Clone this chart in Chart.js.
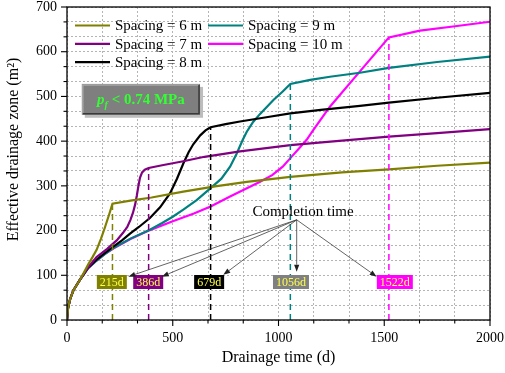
<!DOCTYPE html>
<html>
<head>
<meta charset="utf-8">
<script src="https://cdn.jsdelivr.net/npm/chart.js"></script>
<style>
  html, body { margin: 0; padding: 0; background: #fff; }
  #wrap { width: 505px; height: 373px; }
</style>
</head>
<body>
<div id="wrap"><canvas id="myChart"></canvas></div>
<script>
const FONT = '"Liberation Serif", "Times New Roman", serif';

// values: drainage time (d) -> effective drainage zone (m2)
const seriesNames = ['Spacing = 6 m', 'Spacing = 7 m', 'Spacing = 8 m', 'Spacing = 9 m', 'Spacing = 10 m'];
const seriesColors = ['#808000', '#800080', '#000000', '#008080', '#ff00ff'];

const days6 = [0, 5, 15, 30, 60, 80, 100, 120, 140, 160, 180, 200, 215, 300, 400, 550, 700, 850, 1056, 1300, 1522, 1750, 2000];
const area6 = [0, 27, 47, 66, 89, 106, 124, 140, 157, 181, 208, 237, 260, 267, 274, 287, 299, 309, 320, 330, 337, 345, 352];

const days7 = [0, 5, 15, 30, 60, 100, 140, 190, 235, 265, 285, 300, 312, 322, 330, 337, 345, 355, 368, 386, 450, 550, 650, 818, 1056, 1300, 1522, 1750, 2000];
const area7 = [0, 27, 47, 66, 89, 118, 141, 159, 178, 195, 208, 224, 240, 258, 278, 298, 318, 330, 336, 340, 346, 355, 365, 377, 391, 401, 410, 418, 427];

const days8 = [0, 5, 15, 30, 60, 100, 140, 180, 219, 260, 298, 340, 392, 440, 487, 520, 550, 575, 597, 630, 655, 679, 750, 818, 950, 1056, 1200, 1385, 1522, 1750, 2000];
const area8 = [0, 27, 47, 66, 89, 117, 135, 150, 164, 178, 193, 208, 228, 252, 283, 316, 350, 375, 393, 413, 424, 431, 438, 444, 454, 462, 470, 479, 486, 497, 508];

const days9 = [0, 5, 15, 30, 60, 100, 140, 180, 219, 300, 392, 450, 500, 550, 613, 679, 730, 771, 802, 830, 850, 880, 913, 976, 1020, 1056, 1150, 1243, 1385, 1522, 1750, 2000];
const area9 = [0, 27, 47, 66, 89, 116, 133, 148, 161, 182, 202, 217, 231, 247, 268, 295, 316, 343, 372, 402, 421, 443, 461, 492, 511, 528, 537, 544, 553, 564, 577, 589];

const days10 = [0, 5, 15, 30, 60, 100, 140, 180, 219, 300, 392, 500, 600, 679, 771, 913, 970, 1020, 1056, 1100, 1133, 1165, 1196, 1243, 1385, 1522, 1669, 1835, 2000];
const area10 = [0, 27, 47, 66, 89, 116, 133, 148, 160, 181, 201, 221, 238, 254, 276, 309, 324, 343, 362, 385, 403, 425, 446, 477, 556, 632, 647, 657, 667];

// completion time markers
const completionDays = [215, 386, 679, 1056, 1522];
const completionArea = [260, 340, 431, 528, 632];
const completionLabels = ['215d', '386d', '679d', '1056d', '1522d'];
const completionBoxColors = ['#808000', '#800080', '#000000', '#808080', '#ff00ff'];
const completionLabelDays = [212, 384, 672, 1059, 1550];

// axis ticks
const xTickLabels = [0, 500, 1000, 1500, 2000];
const yTickLabels = [0, 100, 200, 300, 400, 500, 600, 700];
const minorPerMajor = 3;

const allDays = [days6, days7, days8, days9, days10];
const allArea = [area6, area7, area8, area9, area10];

function toPoints(xs, ys) {
  return xs.map((x, i) => ({ x: x, y: ys[i] }));
}

const datasets = [];
// dashed vertical completion lines
completionDays.forEach((d, i) => {
  datasets.push({
    label: 'marker' + i,
    data: [{ x: d, y: 0 }, { x: d, y: completionArea[i] }],
    borderColor: seriesColors[i],
    borderWidth: 1.5,
    borderDash: [6, 4],
    pointRadius: 0,
    fill: false
  });
});
seriesNames.forEach((name, i) => {
  datasets.push({
    label: name,
    data: toPoints(allDays[i], allArea[i]),
    borderColor: seriesColors[i],
    backgroundColor: seriesColors[i],
    borderWidth: 2.2,
    pointRadius: 0,
    tension: 0,
    fill: false
  });
});

function isMajor(v, list) {
  return list.some(t => Math.abs(t - v) < 1e-6);
}

function buildTicks(scale, list) {
  const step = (list[1] - list[0]) / minorPerMajor;
  const n = (list[list.length - 1] - list[0]) / step;
  const ticks = [];
  for (let i = 0; i <= Math.round(n); i++) ticks.push({ value: list[0] + i * step });
  scale.ticks = ticks;
}

function drawArrow(ctx, x1, y1, x2, y2) {
  const a = Math.atan2(y2 - y1, x2 - x1);
  const len = 7, w = 2.6;
  const bx = x2 - len * Math.cos(a), by = y2 - len * Math.sin(a);
  ctx.beginPath();
  ctx.moveTo(x1, y1);
  ctx.lineTo(bx, by);
  ctx.stroke();
  ctx.beginPath();
  ctx.moveTo(x2, y2);
  ctx.lineTo(bx + w * Math.sin(a), by - w * Math.cos(a));
  ctx.lineTo(bx - w * Math.sin(a), by + w * Math.cos(a));
  ctx.closePath();
  ctx.fill();
}

const overlay = {
  id: 'overlay',
  afterDatasetsDraw(chart) {
    const ctx = chart.ctx;
    const xs = chart.scales.x, ys = chart.scales.y;
    const area = chart.chartArea;
    ctx.save();

    // legend, two columns inside the plot
    const cols = [[0, 1, 2], [3, 4]];
    const colX = [area.left + 8, area.left + 141];
    ctx.font = '15px ' + FONT;
    ctx.textBaseline = 'middle';
    ctx.textAlign = 'left';
    cols.forEach((items, c) => {
      items.forEach((k, r) => {
        const y = area.top + 18.5 + r * 18.3;
        ctx.strokeStyle = seriesColors[k];
        ctx.lineWidth = 2.2;
        ctx.beginPath();
        ctx.moveTo(colX[c], y);
        ctx.lineTo(colX[c] + 35, y);
        ctx.stroke();
        ctx.fillStyle = '#000';
        ctx.fillText(seriesNames[k], colX[c] + 40, y + 1);
      });
    });

    // pressure box
    const bx0 = xs.getPixelForValue(70), bx1 = xs.getPixelForValue(629);
    const by0 = ys.getPixelForValue(528), by1 = ys.getPixelForValue(459);
    ctx.fillStyle = '#bdbdbd';
    ctx.fillRect(bx0 + 3, by0 + 3, bx1 - bx0, by1 - by0);
    ctx.fillStyle = '#7f7f7f';
    ctx.fillRect(bx0, by0, bx1 - bx0, by1 - by0);
    ctx.lineWidth = 1.5;
    ctx.strokeStyle = '#a8a8a8';
    ctx.beginPath();
    ctx.moveTo(bx0 + 1, by1 - 1); ctx.lineTo(bx0 + 1, by0 + 1); ctx.lineTo(bx1 - 1, by0 + 1);
    ctx.stroke();
    ctx.strokeStyle = '#3a3a3a';
    ctx.beginPath();
    ctx.moveTo(bx1 - 1, by0 + 1); ctx.lineTo(bx1 - 1, by1 - 1); ctx.lineTo(bx0 + 1, by1 - 1);
    ctx.stroke();

    const f1 = 'italic bold 15px ' + FONT, f2 = 'italic bold 10px ' + FONT, f3 = 'bold 15px ' + FONT;
    ctx.font = f1; const w1 = ctx.measureText('p').width;
    ctx.font = f2; const w2 = ctx.measureText('f').width;
    ctx.font = f3; const w3 = ctx.measureText(' < 0.74 MPa').width;
    let tx = (bx0 + bx1) / 2 - (w1 + w2 + w3) / 2;
    const base = (by0 + by1) / 2 + 5;
    ctx.fillStyle = '#33ff33';
    ctx.textBaseline = 'alphabetic';
    ctx.font = f1; ctx.fillText('p', tx, base); tx += w1;
    ctx.font = f2; ctx.fillText('f', tx, base + 4); tx += w2;
    ctx.font = f3; ctx.fillText(' < 0.74 MPa', tx, base);

    // completion labels
    ctx.font = '12px ' + FONT;
    ctx.textAlign = 'center';
    ctx.textBaseline = 'middle';
    const ly = ys.getPixelForValue(85);
    completionLabels.forEach((t, i) => {
      const cx = xs.getPixelForValue(completionLabelDays[i]);
      const w = ctx.measureText(t).width + 6;
      ctx.fillStyle = completionBoxColors[i];
      ctx.fillRect(cx - w / 2, ly - 7, w, 14);
      ctx.fillStyle = '#ffff4d';
      ctx.fillText(t, cx, ly + 0.5);
    });

    // "Completion time" with arrows
    ctx.font = '15px ' + FONT;
    ctx.fillStyle = '#000';
    ctx.textBaseline = 'alphabetic';
    ctx.fillText('Completion time', xs.getPixelForValue(1116), ys.getPixelForValue(233));
    const ox = xs.getPixelForValue(1086), oy = ys.getPixelForValue(224);
    const tipDays = [290, 448, 739, 1086, 1464];
    const tipArea = [97, 97, 101, 108, 97];
    ctx.strokeStyle = '#3c3c3c';
    ctx.fillStyle = '#202020';
    ctx.lineWidth = 0.8;
    tipDays.forEach((d, i) => {
      drawArrow(ctx, ox, oy, xs.getPixelForValue(d), ys.getPixelForValue(tipArea[i]));
    });
    ctx.restore();
  },
  afterDraw(chart) {
    const ctx = chart.ctx;
    const xs = chart.scales.x, ys = chart.scales.y;
    const a = chart.chartArea;
    ctx.save();
    ctx.strokeStyle = '#000';
    ctx.lineWidth = 1.3;
    ctx.strokeRect(a.left, a.top, a.right - a.left, a.bottom - a.top);
    ctx.lineWidth = 1.1;
    xs.ticks.forEach(t => {
      const px = xs.getPixelForValue(t.value);
      const len = isMajor(t.value, xTickLabels) ? 6 : 3.5;
      ctx.beginPath(); ctx.moveTo(px, a.bottom); ctx.lineTo(px, a.bottom + len); ctx.stroke();
    });
    ys.ticks.forEach(t => {
      const py = ys.getPixelForValue(t.value);
      const len = isMajor(t.value, yTickLabels) ? 6 : 3.5;
      ctx.beginPath(); ctx.moveTo(a.left, py); ctx.lineTo(a.left - len, py); ctx.stroke();
    });

    // axis titles
    ctx.fillStyle = '#000';
    ctx.textAlign = 'center';
    ctx.textBaseline = 'middle';
    ctx.font = '16px ' + FONT;
    ctx.fillText('Drainage time (d)', (a.left + a.right) / 2, 358);
    ctx.translate(14, (a.top + a.bottom) / 2 - 14);
    ctx.rotate(-Math.PI / 2);
    ctx.font = '16px ' + FONT;
    ctx.fillText('Effective drainage zone (m\u00B2)', 0, 0);
    ctx.restore();
  }
};

new Chart(document.getElementById('myChart'), {
  type: 'line',
  data: { datasets: datasets },
  options: {
    responsive: true,
    maintainAspectRatio: false,
    animation: false,
    layout: { padding: { top: 7, right: 15, left: 0, bottom: 0 } },
    plugins: {
      legend: { display: false },
      tooltip: { enabled: false }
    },
    scales: {
      x: {
        type: 'linear',
        min: 0,
        max: 2000,
        afterBuildTicks: s => buildTicks(s, xTickLabels),
        afterFit: s => { s.height = 53; s.paddingLeft = 0; s.paddingRight = 0; },
        grid: { color: '#b4b4b4', lineWidth: 1, drawTicks: false },
        border: { display: false, dash: [2, 2] },
        ticks: {
          autoSkip: false,
          maxRotation: 0,
          padding: 10,
          color: '#000',
          font: { family: FONT, size: 14 },
          callback: v => isMajor(v, xTickLabels) ? String(Math.round(v)) : ''
        }
      },
      y: {
        min: 0,
        max: 700,
        afterBuildTicks: s => buildTicks(s, yTickLabels),
        afterFit: s => { s.width = 67; s.paddingTop = 0; s.paddingBottom = 0; },
        grid: { color: '#b4b4b4', lineWidth: 1, drawTicks: false },
        border: { display: false, dash: [2, 2] },
        ticks: {
          autoSkip: false,
          padding: 10,
          color: '#000',
          font: { family: FONT, size: 14 },
          callback: v => isMajor(v, yTickLabels) ? String(Math.round(v)) : ''
        }
      }
    }
  },
  plugins: [overlay]
});
</script>
</body>
</html>
